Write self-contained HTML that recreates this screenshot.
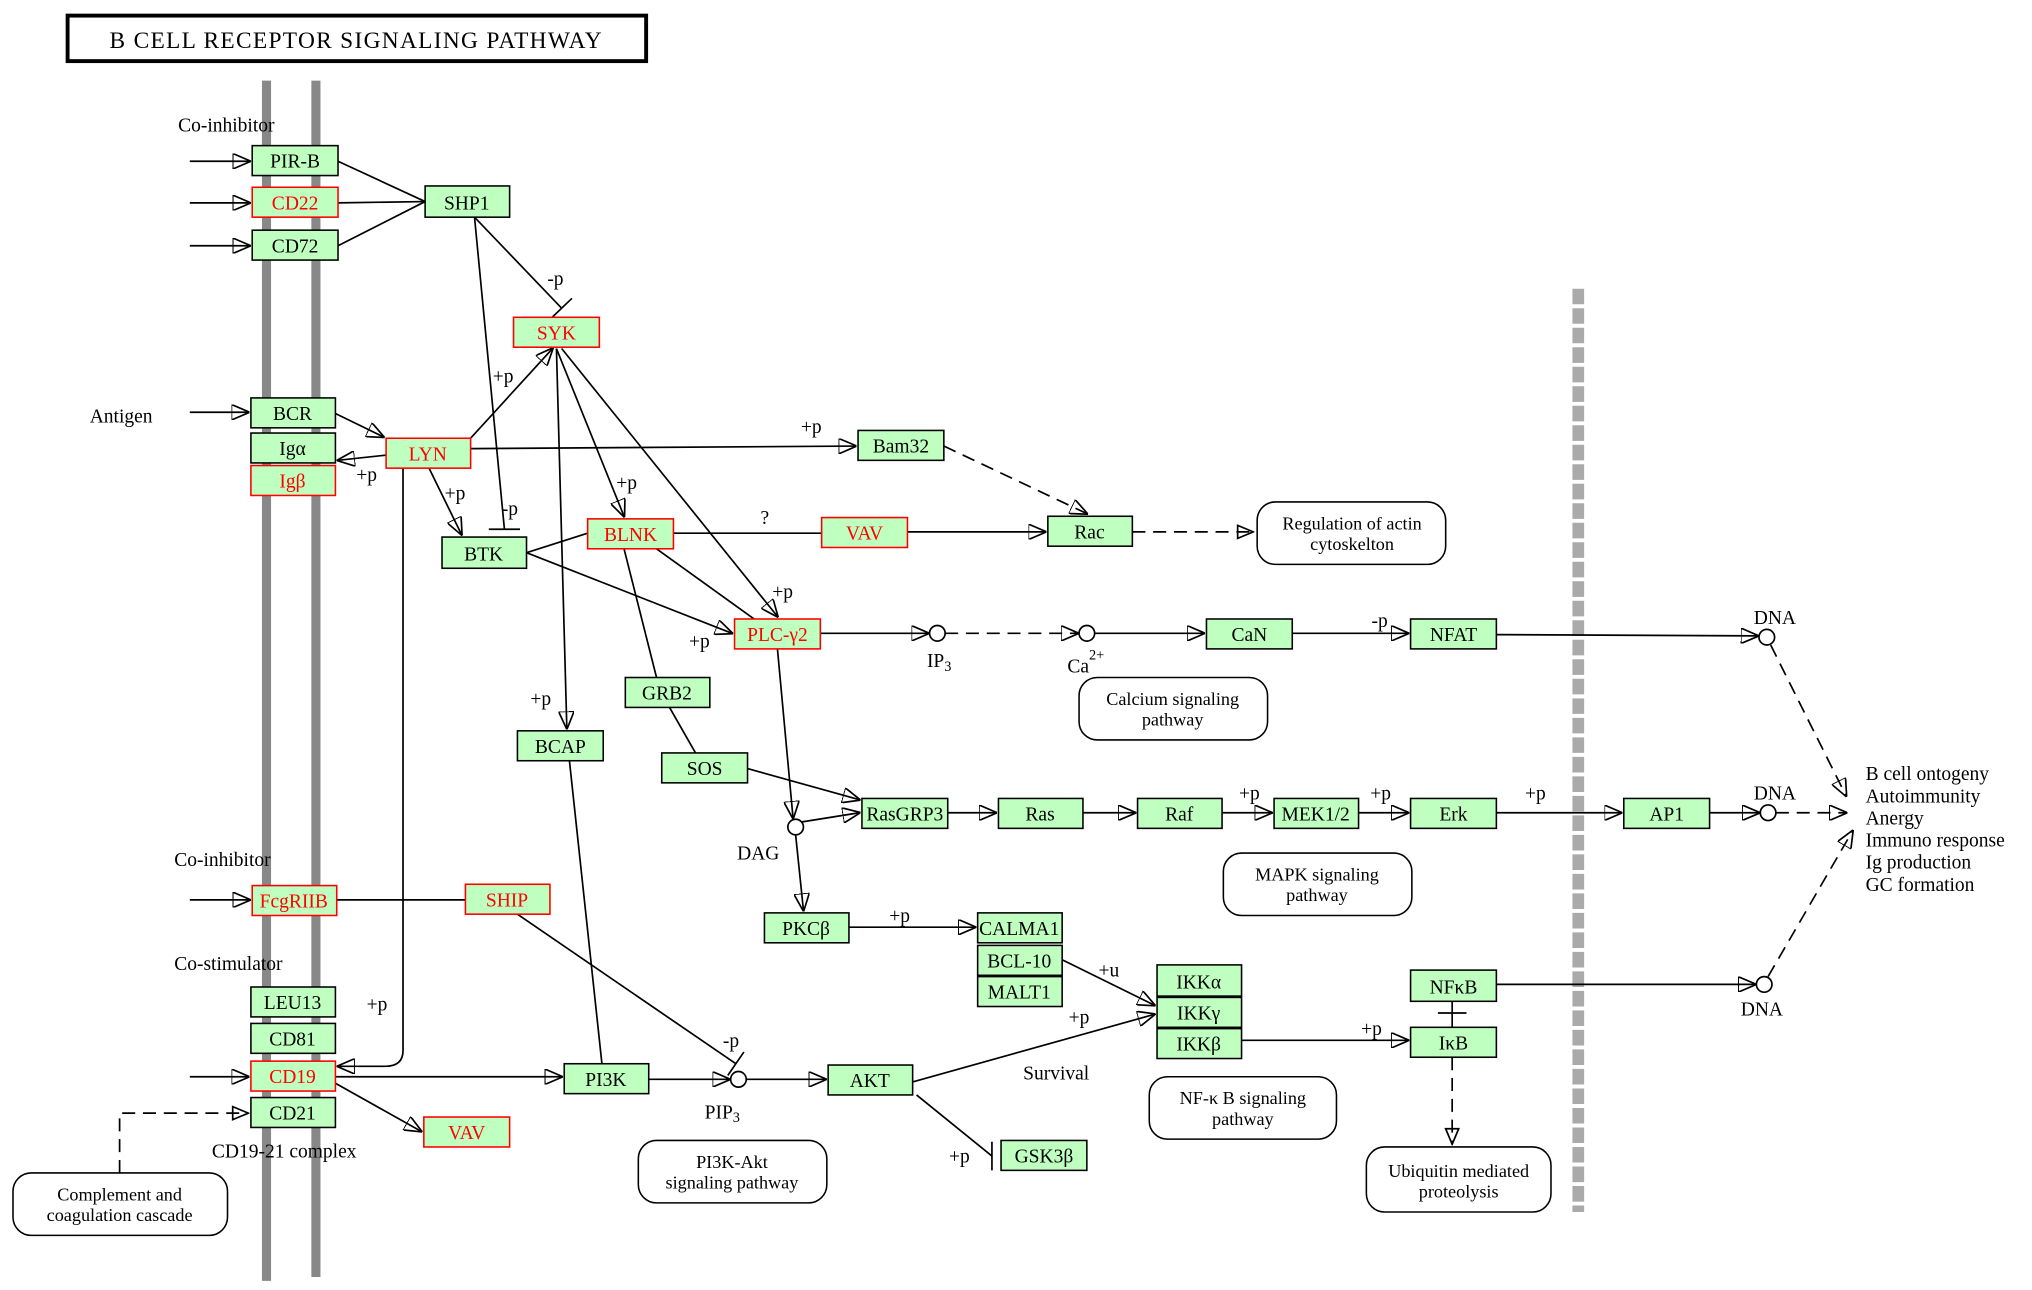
<!DOCTYPE html>
<html><head><meta charset="utf-8"><style>
html,body{margin:0;padding:0;background:#fff;}
svg{display:block;}
text{font-family:"Liberation Serif",serif;font-size:15px;fill:#000;}
.n rect{fill:#bfffbf;stroke:#000;stroke-width:1.2;}
.r rect{fill:#bfffbf;stroke:#ff0000;stroke-width:1.2;}
.n text{text-anchor:middle;}
.r text{text-anchor:middle;fill:#ff0000;}
.rb rect{fill:#fff;stroke:#000;stroke-width:1.2;}
.rb text{text-anchor:middle;font-size:14px;}
line,path,polyline{stroke:#000;stroke-width:1.3;fill:none;}
.d{stroke-dasharray:10,6;}
.l{font-size:15px;}
</style></head><body>
<svg width="2032" height="1290" viewBox="0 0 1563 992" preserveAspectRatio="none" xmlns="http://www.w3.org/2000/svg">
<defs>
<marker id="a" markerUnits="userSpaceOnUse" markerWidth="14" markerHeight="12" refX="13" refY="6" orient="auto"><path d="M0,0 L14,6 L0,12 z" fill="#000" stroke="none"/></marker>
<marker id="o" markerUnits="userSpaceOnUse" markerWidth="14" markerHeight="12" refX="13" refY="6" orient="auto"><path d="M1,1 L13,6 L1,11 z" fill="#fff" stroke="#000" stroke-width="1.2"/></marker>
<marker id="t" markerUnits="userSpaceOnUse" markerWidth="4" markerHeight="22" refX="2" refY="11" orient="auto"><line x1="2" y1="0" x2="2" y2="22" stroke="#000" stroke-width="1.5"/></marker>
</defs>
<rect x="0" y="0" width="1563" height="992" fill="#fff"/>
<rect x="52" y="12" width="445" height="35" fill="#fff" stroke="#000" stroke-width="3"/>
<text x="274" y="37" text-anchor="middle" style="font-size:18px;letter-spacing:1px">B CELL RECEPTOR SIGNALING PATHWAY</text>
<line x1="205" y1="62" x2="205" y2="985" style="stroke:#888;stroke-width:7"/>
<line x1="243" y1="62" x2="243" y2="982" style="stroke:#888;stroke-width:7"/>
<line x1="1214" y1="222" x2="1214" y2="932" style="stroke:#aaa;stroke-width:9;stroke-dasharray:12,3"/>

<!-- edges -->
<line x1="146" y1="124" x2="192" y2="124" marker-end="url(#a)"/>
<line x1="146" y1="156" x2="192" y2="156" marker-end="url(#a)"/>
<line x1="146" y1="189" x2="192" y2="189" marker-end="url(#a)"/>
<line x1="260" y1="124" x2="327" y2="155"/>
<line x1="260" y1="156" x2="327" y2="155"/>
<line x1="260" y1="189" x2="327" y2="155"/>
<line x1="365" y1="167" x2="432" y2="237" marker-end="url(#t)"/>
<line x1="365" y1="167" x2="388" y2="407"/>
<line x1="376" y1="407" x2="400" y2="407"/>
<line x1="146" y1="317" x2="191" y2="317" marker-end="url(#a)"/>
<line x1="258" y1="318" x2="295" y2="336" marker-end="url(#a)"/>
<line x1="297" y1="350" x2="260" y2="354" marker-end="url(#a)"/>
<line x1="362" y1="337" x2="425" y2="268" marker-end="url(#a)"/>
<line x1="362" y1="345" x2="658" y2="343" marker-end="url(#a)"/>
<line x1="330" y1="360" x2="355" y2="411" marker-end="url(#a)"/>
<path d="M310,360 L310,808 Q310,820 296,820 L260,820" marker-end="url(#a)"/>
<line x1="428" y1="268" x2="436" y2="560" marker-end="url(#a)"/>
<line x1="428" y1="268" x2="480" y2="397" marker-end="url(#a)"/>
<line x1="432" y1="268" x2="598" y2="474" marker-end="url(#a)"/>
<line x1="726" y1="343" x2="836" y2="395" class="d" marker-end="url(#a)"/>
<line x1="871" y1="409" x2="964" y2="409" class="d" marker-end="url(#o)"/>
<line x1="405" y1="425" x2="452" y2="410"/>
<line x1="405" y1="425" x2="563" y2="487" marker-end="url(#a)"/>
<line x1="518" y1="410" x2="632" y2="410"/>
<line x1="505" y1="422" x2="580" y2="476"/>
<line x1="698" y1="409" x2="804" y2="409" marker-end="url(#a)"/>
<line x1="480" y1="422" x2="505" y2="521"/>
<line x1="515" y1="544" x2="535" y2="579"/>
<line x1="575" y1="591" x2="661" y2="615" marker-end="url(#a)"/>
<line x1="631" y1="487" x2="714" y2="487" marker-end="url(#a)"/>
<line x1="727" y1="487" x2="829" y2="487" class="d" marker-end="url(#a)"/>
<line x1="842" y1="487" x2="926" y2="487" marker-end="url(#a)"/>
<line x1="994" y1="487" x2="1083" y2="487" marker-end="url(#a)"/>
<line x1="1151" y1="488" x2="1352" y2="489" marker-end="url(#a)"/>
<line x1="598" y1="499" x2="610" y2="629" marker-end="url(#a)"/>
<line x1="617" y1="632" x2="661" y2="625" marker-end="url(#a)"/>
<line x1="612" y1="642" x2="618" y2="700" marker-end="url(#a)"/>
<line x1="729" y1="625" x2="766" y2="625" marker-end="url(#a)"/>
<line x1="833" y1="625" x2="873" y2="625" marker-end="url(#a)"/>
<line x1="940" y1="625" x2="978" y2="625" marker-end="url(#a)"/>
<line x1="1045" y1="625" x2="1083" y2="625" marker-end="url(#a)"/>
<line x1="1151" y1="625" x2="1247" y2="625" marker-end="url(#a)"/>
<line x1="1315" y1="625" x2="1353" y2="625" marker-end="url(#a)"/>
<line x1="1366" y1="625" x2="1420" y2="625" class="d" marker-end="url(#a)"/>
<line x1="1362" y1="496" x2="1420" y2="612" class="d" marker-end="url(#a)"/>
<line x1="1360" y1="751" x2="1425" y2="639" class="d" marker-end="url(#a)"/>
<line x1="653" y1="713" x2="750" y2="713" marker-end="url(#a)"/>
<line x1="817" y1="738" x2="888" y2="773" marker-end="url(#a)"/>
<line x1="702" y1="832" x2="888" y2="780" marker-end="url(#a)"/>
<line x1="955" y1="800" x2="1083" y2="800" marker-end="url(#a)"/>
<line x1="1151" y1="757" x2="1350" y2="757" marker-end="url(#a)"/>
<line x1="1117" y1="770" x2="1117" y2="790"/>
<line x1="1106" y1="779" x2="1128" y2="779"/>
<line x1="1117" y1="813" x2="1117" y2="880" class="d" marker-end="url(#o)"/>
<line x1="146" y1="692" x2="192" y2="692" marker-end="url(#a)"/>
<line x1="259" y1="692" x2="358" y2="692"/>
<line x1="398" y1="703" x2="566" y2="818" marker-end="url(#t)"/>
<line x1="146" y1="828" x2="191" y2="828" marker-end="url(#a)"/>
<line x1="258" y1="828" x2="432" y2="828" marker-end="url(#a)"/>
<line x1="499" y1="830" x2="561" y2="830" marker-end="url(#a)"/>
<line x1="574" y1="830" x2="635" y2="830" marker-end="url(#a)"/>
<line x1="438" y1="585" x2="463" y2="818"/>
<line x1="258" y1="833" x2="324" y2="870" marker-end="url(#a)"/>
<line x1="705" y1="842" x2="763" y2="889"/>
<line x1="763" y1="878" x2="763" y2="900"/>
<path d="M92,902 L92,856 L191,856" class="d" marker-end="url(#o)"/>

<!-- circles -->
<g fill="#fff" stroke="#000" stroke-width="1.3">
<circle cx="721" cy="487" r="6"/><circle cx="836" cy="487" r="6"/><circle cx="612" cy="636" r="6"/>
<circle cx="568" cy="830" r="6"/><circle cx="1359" cy="490" r="6"/><circle cx="1360" cy="625" r="6"/><circle cx="1357" cy="757" r="6"/>
</g>

<!-- nodes -->
<g class="n"><rect x="194" y="112" width="66" height="23"/><text x="227" y="129">PIR-B</text></g>
<g class="r"><rect x="194" y="144" width="66" height="23"/><text x="227" y="161">CD22</text></g>
<g class="n"><rect x="194" y="177" width="66" height="23"/><text x="227" y="194">CD72</text></g>
<g class="n"><rect x="327" y="143" width="65" height="24"/><text x="359" y="161">SHP1</text></g>
<g class="r"><rect x="395" y="244" width="66" height="23"/><text x="428" y="261">SYK</text></g>
<g class="n"><rect x="193" y="306" width="65" height="23"/><text x="225" y="323">BCR</text></g>
<g class="n"><rect x="193" y="333" width="65" height="23"/><text x="225" y="350">Igα</text></g>
<g class="r"><rect x="193" y="358" width="65" height="23"/><text x="225" y="375">Igβ</text></g>
<g class="r"><rect x="297" y="337" width="65" height="23"/><text x="329" y="354">LYN</text></g>
<g class="n"><rect x="660" y="331" width="66" height="23"/><text x="693" y="348">Bam32</text></g>
<g class="n"><rect x="340" y="413" width="65" height="24"/><text x="372" y="431">BTK</text></g>
<g class="r"><rect x="452" y="399" width="66" height="23"/><text x="485" y="416">BLNK</text></g>
<g class="r"><rect x="632" y="398" width="66" height="23"/><text x="665" y="415">VAV</text></g>
<g class="n"><rect x="806" y="397" width="65" height="23"/><text x="838" y="414">Rac</text></g>
<g class="r"><rect x="565" y="476" width="66" height="23"/><text x="598" y="493">PLC-γ2</text></g>
<g class="n"><rect x="928" y="476" width="66" height="23"/><text x="961" y="493">CaN</text></g>
<g class="n"><rect x="1085" y="476" width="66" height="23"/><text x="1118" y="493">NFAT</text></g>
<g class="n"><rect x="481" y="521" width="65" height="23"/><text x="513" y="538">GRB2</text></g>
<g class="n"><rect x="398" y="562" width="66" height="23"/><text x="431" y="579">BCAP</text></g>
<g class="n"><rect x="509" y="579" width="66" height="23"/><text x="542" y="596">SOS</text></g>
<g class="n"><rect x="663" y="614" width="66" height="23"/><text x="696" y="631">RasGRP3</text></g>
<g class="n"><rect x="768" y="614" width="65" height="23"/><text x="800" y="631">Ras</text></g>
<g class="n"><rect x="875" y="614" width="65" height="23"/><text x="907" y="631">Raf</text></g>
<g class="n"><rect x="980" y="614" width="65" height="23"/><text x="1012" y="631">MEK1/2</text></g>
<g class="n"><rect x="1085" y="614" width="66" height="23"/><text x="1118" y="631">Erk</text></g>
<g class="n"><rect x="1249" y="614" width="66" height="23"/><text x="1282" y="631">AP1</text></g>
<g class="r"><rect x="194" y="681" width="65" height="23"/><text x="226" y="698">FcgRIIB</text></g>
<g class="r"><rect x="358" y="680" width="65" height="23"/><text x="390" y="697">SHIP</text></g>
<g class="n"><rect x="588" y="702" width="65" height="23"/><text x="620" y="719">PKCβ</text></g>
<g class="n"><rect x="752" y="702" width="65" height="23"/><text x="784" y="719">CALMA1</text></g>
<g class="n"><rect x="752" y="727" width="65" height="23"/><text x="784" y="744">BCL-10</text></g>
<g class="n"><rect x="752" y="751" width="65" height="23"/><text x="784" y="768">MALT1</text></g>
<g class="n"><rect x="890" y="742" width="65" height="24"/><text x="922" y="760">IKKα</text></g>
<g class="n"><rect x="890" y="767" width="65" height="23"/><text x="922" y="784">IKKγ</text></g>
<g class="n"><rect x="890" y="791" width="65" height="23"/><text x="922" y="808">IKKβ</text></g>
<g class="n"><rect x="1085" y="746" width="66" height="24"/><text x="1118" y="764">NFκB</text></g>
<g class="n"><rect x="1085" y="790" width="66" height="23"/><text x="1118" y="807">IκB</text></g>
<g class="n"><rect x="193" y="759" width="65" height="23"/><text x="225" y="776">LEU13</text></g>
<g class="n"><rect x="193" y="787" width="65" height="23"/><text x="225" y="804">CD81</text></g>
<g class="r"><rect x="193" y="816" width="65" height="23"/><text x="225" y="833">CD19</text></g>
<g class="n"><rect x="193" y="844" width="65" height="23"/><text x="225" y="861">CD21</text></g>
<g class="r"><rect x="326" y="859" width="66" height="23"/><text x="359" y="876">VAV</text></g>
<g class="n"><rect x="434" y="818" width="65" height="23"/><text x="466" y="835">PI3K</text></g>
<g class="n"><rect x="637" y="819" width="65" height="23"/><text x="669" y="836">AKT</text></g>
<g class="n"><rect x="770" y="877" width="66" height="23"/><text x="803" y="894">GSK3β</text></g>

<!-- rounded -->
<g class="rb"><rect x="967" y="386" width="145" height="48" rx="14"/><text x="1040" y="407">Regulation of actin</text><text x="1040" y="423">cytoskelton</text></g>
<g class="rb"><rect x="830" y="521" width="145" height="48" rx="14"/><text x="902" y="542">Calcium signaling</text><text x="902" y="558">pathway</text></g>
<g class="rb"><rect x="941" y="656" width="145" height="48" rx="14"/><text x="1013" y="677">MAPK signaling</text><text x="1013" y="693">pathway</text></g>
<g class="rb"><rect x="884" y="828" width="144" height="48" rx="14"/><text x="956" y="849">NF-κ B signaling</text><text x="956" y="865">pathway</text></g>
<g class="rb"><rect x="491" y="877" width="145" height="48" rx="14"/><text x="563" y="898">PI3K-Akt</text><text x="563" y="914">signaling pathway</text></g>
<g class="rb"><rect x="1051" y="882" width="142" height="50" rx="14"/><text x="1122" y="905">Ubiquitin mediated</text><text x="1122" y="921">proteolysis</text></g>
<g class="rb"><rect x="10" y="902" width="165" height="48" rx="14"/><text x="92" y="923">Complement and</text><text x="92" y="939">coagulation cascade</text></g>

<!-- labels -->
<g class="l">
<text x="137" y="101">Co-inhibitor</text>
<text x="69" y="325">Antigen</text>
<text x="134" y="666">Co-inhibitor</text>
<text x="134" y="746">Co-stimulator</text>
<text x="163" y="890">CD19-21 complex</text>
<text x="421" y="219">-p</text>
<text x="386" y="396">-p</text>
<text x="379" y="294">+p</text>
<text x="274" y="370">+p</text>
<text x="342" y="384">+p</text>
<text x="616" y="333">+p</text>
<text x="474" y="376">+p</text>
<text x="594" y="460">+p</text>
<text x="530" y="498">+p</text>
<text x="585" y="403">?</text>
<text x="408" y="542">+p</text>
<text x="282" y="777">+p</text>
<text x="713" y="513">IP<tspan style="font-size:11px" dy="3">3</tspan></text>
<text x="821" y="517">Ca<tspan style="font-size:11px" dy="-10">2+</tspan></text>
<text x="567" y="661">DAG</text>
<text x="542" y="860">PIP<tspan style="font-size:11px" dy="3">3</tspan></text>
<text x="556" y="805">-p</text>
<text x="1055" y="482">-p</text>
<text x="953" y="615">+p</text>
<text x="1054" y="615">+p</text>
<text x="1173" y="615">+p</text>
<text x="684" y="709">+p</text>
<text x="845" y="751">+u</text>
<text x="822" y="787">+p</text>
<text x="1047" y="796">+p</text>
<text x="787" y="830">Survival</text>
<text x="730" y="894">+p</text>
<text x="1349" y="480">DNA</text>
<text x="1349" y="615">DNA</text>
<text x="1339" y="781">DNA</text>
<text x="1435" y="600">B cell ontogeny</text>
<text x="1435" y="617">Autoimmunity</text>
<text x="1435" y="634">Anergy</text>
<text x="1435" y="651">Immuno response</text>
<text x="1435" y="668">Ig production</text>
<text x="1435" y="685">GC formation</text>
</g>
</svg>
</body></html>
